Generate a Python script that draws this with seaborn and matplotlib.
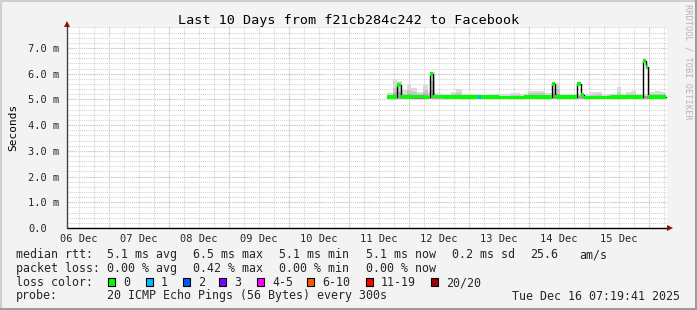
import matplotlib
matplotlib.use("Agg")
import matplotlib.pyplot as plt
import seaborn as sns
import pandas as pd
from matplotlib.patches import Rectangle
from matplotlib.lines import Line2D

# ---------------- data ----------------
day_labels = ["06 Dec", "07 Dec", "08 Dec", "09 Dec", "10 Dec",
              "11 Dec", "12 Dec", "13 Dec", "14 Dec", "15 Dec"]
y_ticks = [0, 1, 2, 3, 4, 5, 6, 7]
y_tick_labels = ["0.0", "1.0 m", "2.0 m", "3.0 m", "4.0 m", "5.0 m", "6.0 m", "7.0 m"]

t_start = 7.33      # hours since 06 Dec 00:00 (06 Dec 07:19)
t_end = 247.33      # 16 Dec 07:19

# median rtt (ms) step series, hours since 06 Dec 00:00
med_t = [135.3, 139.3, 140.9, 145.0, 150.0, 152.5, 153.7, 158.0, 163.0, 171.7,
         172.9, 180.0, 190.0, 201.3, 202.5, 206.0, 211.3, 212.9, 214.1, 225.0,
         237.7, 238.9, 239.7, 246.9]
med_v = [5.10, 5.56, 5.09, 5.11, 5.08, 5.99, 5.12, 5.09, 5.10, 5.09,
         5.10, 5.08, 5.10, 5.60, 5.09, 5.10, 5.60, 5.17, 5.08, 5.10,
         6.50, 6.26, 5.10, 5.10]
med_loss = [0, 0, 0, 0, 0, 0, 0, 0, 0, 1,
            0, 0, 0, 0, 0, 0, 0, 0, 0, 0,
            0, 0, 0, 0]

# smoke (ping spread) step series
smoke_t = [135.3, 137.7, 139.3, 141.3, 143.3, 144.9, 147.3, 149.7, 151.7, 152.9,
           154.5, 156.9, 160.9, 162.9, 165.3, 168.9, 172.9, 176.5, 180.5, 184.5,
           188.5, 191.7, 198.5, 201.3, 204.5, 208.5, 213.3, 216.5, 218.5, 221.3,
           223.7, 227.3, 228.9, 230.9, 232.9, 234.9, 237.7, 240.1, 242.5, 244.9, 246.9]
smoke_hi = [5.25, 5.80, 5.70, 5.35, 5.60, 5.45, 5.30, 5.55, 5.30, 6.05,
            5.25, 5.20, 5.30, 5.40, 5.20, 5.22, 5.18, 5.22, 5.20, 5.24,
            5.20, 5.33, 5.25, 5.65, 5.20, 5.22, 5.20, 5.28, 5.30, 5.20,
            5.22, 5.48, 5.22, 5.30, 5.33, 5.20, 5.20, 5.30, 5.32, 5.28, 5.28]
smoke_mid = [5.18, 5.45, 5.45, 5.22, 5.38, 5.30, 5.20, 5.35, 5.20, 5.70,
             5.17, 5.15, 5.20, 5.26, 5.15, 5.16, 5.14, 5.16, 5.15, 5.17,
             5.15, 5.24, 5.18, 5.40, 5.15, 5.16, 5.15, 5.19, 5.21, 5.15,
             5.16, 5.26, 5.16, 5.20, 5.22, 5.15, 5.15, 5.22, 5.23, 5.20, 5.20]
smoke_low = [5.14, 5.25, 5.28, 5.15, 5.22, 5.18, 5.14, 5.20, 5.14, 5.35,
             5.13, 5.12, 5.14, 5.16, 5.12, 5.13, 5.12, 5.13, 5.12, 5.13,
             5.12, 5.16, 5.13, 5.22, 5.12, 5.13, 5.12, 5.14, 5.15, 5.12,
             5.13, 5.16, 5.13, 5.14, 5.15, 5.12, 5.12, 5.15, 5.16, 5.14, 5.14]
smoke_lo = 5.03

loss_labels = ["0", "1", "2", "3", "4-5", "6-10", "11-19", "20/20"]
loss_colors = ["#00ff00", "#00b8ff", "#0059ff", "#7e00ff",
               "#ff00ff", "#ff5500", "#ff0000", "#a10000"]

stats_rtt = ["5.1 ms avg", "6.5 ms max", "5.1 ms min", "5.1 ms now", "0.2 ms sd", "25.6", "am/s"]
stats_loss = ["0.00 % avg", "0.42 % max", "0.00 % min", "0.00 % now"]

# ---------------- style ----------------
sns.set_style("white")
plt.rcParams["font.family"] = ["DejaVu Sans Mono"]

W, H = 697, 310
BG = "#f3f3f3"
fig = plt.figure(figsize=(W / 100, H / 100), dpi=100, facecolor=BG)

def fx(px):
    return px / W

def fy(py):
    return 1 - py / H

# outer 3D border
fig.add_artist(Line2D([0, 1], [fy(0.5), fy(0.5)], color="#cfcfcf", lw=1.5))
fig.add_artist(Line2D([fx(0.5), fx(0.5)], [0, 1], color="#cfcfcf", lw=1.5))
fig.add_artist(Line2D([0, 1], [fy(H - 1), fy(H - 1)], color="#9c9c9c", lw=2.2))
fig.add_artist(Line2D([fx(W - 1), fx(W - 1)], [0, 1], color="#9c9c9c", lw=2.2))

ax_l, ax_r, ax_t, ax_b = 67, 667, 27, 228
ax = fig.add_axes([fx(ax_l), fy(ax_b), (ax_r - ax_l) / W, (ax_b - ax_t) / H])
ax.set_facecolor("white")
ymax = (ax_b - ax_t) / 25.71
ax.set_xlim(t_start, t_end)
ax.set_ylim(0, ymax)

for s in ax.spines.values():
    s.set_visible(False)

dot = (0, (1, 1))
minor_c = "#d2d2d2"
major_c = "#eea3a3"

# grids: horizontal
ax.set_yticks(y_ticks)
ax.set_yticklabels(y_tick_labels)
ax.set_yticks([v / 5 for v in range(0, 40)], minor=True)
ax.yaxis.remove_overlapping_locs = False
ax.grid(axis="y", which="minor", color=minor_c, linestyle=dot, lw=0.75, zorder=0)
ax.grid(axis="y", which="major", color=major_c, linestyle=dot, lw=0.75, zorder=0)
ax.tick_params(axis="y", which="major", length=2, color=major_c, pad=26, labelsize=7.5)
ax.tick_params(axis="y", which="minor", length=0)
for lbl in ax.get_yticklabels():
    lbl.set_horizontalalignment("left")

# grids: vertical (6h minor, daily major), labels at noon
noons = [12 + 24 * i for i in range(len(day_labels))]
ax.set_xticks(noons)
ax.set_xticklabels(day_labels)
ax.set_xticks([6 * k for k in range(2, 42)], minor=True)
ax.xaxis.remove_overlapping_locs = False
ax.grid(axis="x", which="minor", color=minor_c, linestyle=dot, lw=0.75, zorder=0)
ax.grid(axis="x", which="major", visible=False)
ax.tick_params(axis="x", which="both", length=0, pad=4.5, labelsize=7.5)
for i in range(len(day_labels)):
    ax.axvline(24 * (i + 1), color=major_c, linestyle=dot, lw=0.75, zorder=0.5)

# smoke
st = smoke_t
base = [smoke_lo] * len(st)
ax.fill_between(st, base, smoke_hi, step="post", color="#dadada", lw=0, zorder=1)
ax.fill_between(st, base, smoke_mid, step="post", color="#c4c4c4", lw=0, zorder=1.1)
ax.fill_between(st, base, smoke_low, step="post", color="#a8a8a8", lw=0, zorder=1.2)

# median line (black) via seaborn
df = pd.DataFrame({"t": med_t, "v": med_v})
sns.lineplot(data=df, x="t", y="v", ax=ax, color="black", lw=1.0,
             drawstyle="steps-post", estimator=None, sort=False, zorder=2)
ax.set_xlabel("")
ax.set_ylabel("")

# loss-coloured band around median
hh = 0.065
for i in range(len(med_t) - 1):
    ax.fill_between([med_t[i], med_t[i + 1]], med_v[i] - hh, med_v[i] + hh,
                    color=loss_colors[med_loss[i]], lw=0, zorder=3)

# axes lines with arrows
ax.plot([0, 1.0], [0, 0], transform=ax.transAxes, color="black", lw=1,
        clip_on=False, zorder=5)
ax.plot([0, 0], [0, 1.0 + 3 / (ax_b - ax_t)], transform=ax.transAxes, color="#444444",
        lw=1, clip_on=False, zorder=5)
ax.plot([1.0 + 3 / (ax_r - ax_l)], [0], transform=ax.transAxes, marker=">",
        color="#8b1010", ms=5, clip_on=False, zorder=6, mew=0)
ax.plot([0], [1.0 + 3 / (ax_b - ax_t)], transform=ax.transAxes, marker="^",
        color="#8b1010", ms=5, clip_on=False, zorder=6, mew=0)

# title & labels
fig.text(0.5, fy(24), "Last 10 Days from f21cb284c242 to Facebook",
         ha="center", va="baseline", fontsize=9.7, color="black")
fig.text(fx(13), fy(127), "Seconds", rotation=90, ha="center", va="center",
         fontsize=8, color="black")
fig.text(fx(688), fy(4), "RRDTOOL / TOBI OETIKER", rotation=-90, ha="center",
         va="top", fontsize=6.2, color="#b4b4b4")

# legend block
fs = 8.4
rows = [258, 272, 286, 299.5]
fig.text(fx(16), fy(rows[0]), "median rtt:", fontsize=fs, va="baseline")
for x, s in zip([107, 193, 279, 366, 452, 530, 579], stats_rtt):
    fig.text(fx(x), fy(rows[0]), s, fontsize=fs, va="baseline")
fig.text(fx(16), fy(rows[1]), "packet loss:", fontsize=fs, va="baseline")
for x, s in zip([107, 193, 279, 366], stats_loss):
    fig.text(fx(x), fy(rows[1]), s, fontsize=fs, va="baseline")
fig.text(fx(16), fy(rows[2]), "loss color:", fontsize=fs, va="baseline")
box_x = [108, 146, 183, 219, 257, 307, 366, 431]
for bx, c, lab in zip(box_x, loss_colors, loss_labels):
    fig.add_artist(Rectangle((fx(bx), fy(rows[2])), 7 / W, 8 / H,
                             transform=fig.transFigure, facecolor=c,
                             edgecolor="black", lw=0.8))
    fig.text(fx(bx + 15), fy(rows[2]), lab, fontsize=fs, va="baseline")
fig.text(fx(16), fy(rows[3]), "probe:", fontsize=fs, va="baseline")
fig.text(fx(107), fy(rows[3]), "20 ICMP Echo Pings (56 Bytes) every 300s",
         fontsize=fs, va="baseline")
fig.text(fx(680), fy(rows[3]), "Tue Dec 16 07:19:41 2025", fontsize=fs,
         va="baseline", ha="right")

fig.savefig("out.png", dpi=100, facecolor=BG)
